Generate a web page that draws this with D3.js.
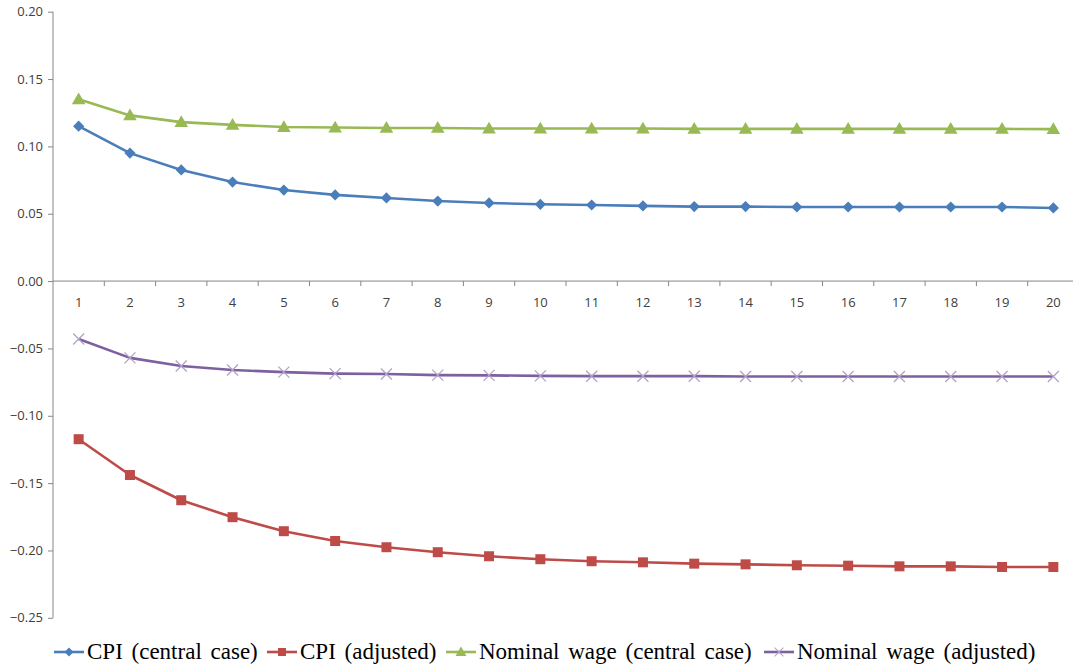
<!DOCTYPE html>
<html>
<head>
<meta charset="utf-8">
<script src="https://cdn.jsdelivr.net/npm/d3@7"></script>
<style>
  body { margin: 0; background: #fff; }
  svg { display: block; }
</style>
</head>
<body>
<div id="app"></div>
<script>
const periods = d3.range(1, 21).map(String)

const cpiCentral = [0.115, 0.095, 0.0825, 0.0735, 0.0676, 0.064, 0.0617, 0.0594, 0.058, 0.057,
                    0.0565, 0.0558, 0.0553, 0.0553, 0.055, 0.055, 0.055, 0.055, 0.055, 0.0543]
const cpiAdjusted = [-0.1174, -0.144, -0.1627, -0.1753, -0.1857, -0.193, -0.1976, -0.2013, -0.2043, -0.2065,
                     -0.208, -0.2088, -0.2098, -0.2103, -0.211, -0.2113, -0.2118, -0.2118, -0.2123, -0.2123]
const wageCentral = [0.135, 0.123, 0.118, 0.116, 0.1144, 0.114, 0.1137, 0.1137, 0.1133, 0.1133,
                     0.1133, 0.1133, 0.113, 0.113, 0.113, 0.113, 0.113, 0.113, 0.113, 0.1128]
const wageAdjusted = [-0.043, -0.057, -0.063, -0.066, -0.0676, -0.0687, -0.069, -0.0698, -0.070, -0.0704,
                      -0.0706, -0.0706, -0.0706, -0.0708, -0.0708, -0.0708, -0.0708, -0.0708, -0.0708, -0.0708]

const yTicks = [0.20, 0.15, 0.10, 0.05, 0.00, -0.05, -0.10, -0.15, -0.20, -0.25]

const seriesNames = ['CPI (central case)', 'CPI (adjusted)', 'Nominal wage (central case)', 'Nominal wage (adjusted)']
const seriesColors = ['#4A7EBB', '#BE4B48', '#98B954', '#7D60A0']
const seriesShapes = ['diamond', 'square', 'triangle', 'cross']
const seriesValues = [cpiCentral, cpiAdjusted, wageCentral, wageAdjusted]

const width = 1073
const height = 669
const plotLeft = 53, plotRight = 1079, plotTop = 11.7, plotBottom = 617.8

const svg = d3.select('#app').append('svg')
    .attr('width', width)
    .attr('height', height)

const x = d3.scaleBand().domain(periods).range([plotLeft, plotRight])
const y = d3.scaleLinear().domain([-0.25, 0.20]).range([plotBottom, plotTop])

const axisColor = '#868686'
const labelColor = '#404040'

// y axis
const yAxis = svg.append('g')
    .attr('transform', `translate(${plotLeft},0)`)
    .call(d3.axisLeft(y).tickValues(yTicks).tickSize(5).tickPadding(5).tickFormat(d3.format('.2f')))
yAxis.select('.domain').attr('stroke', axisColor).attr('d', `M0,${plotTop}V${plotBottom}`)
yAxis.selectAll('.tick line').attr('stroke', axisColor)
yAxis.selectAll('.tick text')
    .attr('fill', labelColor)
    .style('font-family', "'Open Sans', 'Liberation Sans', sans-serif")
    .style('font-size', '13px')

// x axis at zero
const xAxisG = svg.append('g').attr('transform', `translate(0,${y(0)})`)
xAxisG.append('line')
    .attr('x1', plotLeft).attr('x2', plotRight)
    .attr('stroke', axisColor)
xAxisG.selectAll('line.tk')
    .data(periods.slice(1).concat(['end']))
    .join('line')
    .attr('class', 'tk')
    .attr('x1', d => d === 'end' ? plotRight : x(d))
    .attr('x2', d => d === 'end' ? plotRight : x(d))
    .attr('y1', 0).attr('y2', 5)
    .attr('stroke', axisColor)
xAxisG.selectAll('text')
    .data(periods)
    .join('text')
    .attr('x', d => x(d) + x.bandwidth() / 2)
    .attr('y', 26)
    .attr('text-anchor', 'middle')
    .attr('fill', labelColor)
    .style('font-family', "'Open Sans', 'Liberation Sans', sans-serif")
    .style('font-size', '13px')
    .text(d => d)

function markerPath(shape) {
  if (shape === 'diamond') return d3.symbol(d3.symbolDiamond2, 80)()
  if (shape === 'square') return d3.symbol(d3.symbolSquare, 100)()
  if (shape === 'triangle') return d3.symbol(d3.symbolTriangle, 80)()
  return 'M-5.5,-5.5L5.5,5.5M-5.5,5.5L5.5,-5.5'
}

function drawMarker(g, shape, color) {
  if (shape === 'cross') {
    g.append('path').attr('d', markerPath(shape))
      .attr('fill', 'none').attr('stroke', '#B3A2C7').attr('stroke-width', 1.3)
  } else {
    g.append('path').attr('d', markerPath(shape))
      .attr('fill', color)
      .attr('transform', shape === 'triangle' ? 'translate(0,1)' : null)
  }
}

const line = d3.line()
    .x((d, i) => x(periods[i]) + x.bandwidth() / 2)
    .y(d => y(d))

seriesValues.forEach((values, k) => {
  const g = svg.append('g')
  g.append('path')
      .datum(values)
      .attr('d', line)
      .attr('fill', 'none')
      .attr('stroke', seriesColors[k])
      .attr('stroke-width', 2.6)
      .attr('stroke-linejoin', 'round')
  g.selectAll('g.m')
      .data(values)
      .join('g')
      .attr('class', 'm')
      .attr('transform', (d, i) => `translate(${x(periods[i]) + x.bandwidth() / 2},${y(d)})`)
      .each(function() { drawMarker(d3.select(this), seriesShapes[k], seriesColors[k]) })
})

// legend
const legendX = [54, 267, 446, 764]
const legend = svg.append('g').attr('transform', 'translate(0,652)')
seriesNames.forEach((name, k) => {
  const item = legend.append('g').attr('transform', `translate(${legendX[k]},0)`)
  item.append('line')
      .attr('x1', 0).attr('x2', 30)
      .attr('stroke', seriesColors[k])
      .attr('stroke-width', 2.6)
  const m = item.append('g').attr('transform', 'translate(15,0) scale(0.8)')
  drawMarker(m, seriesShapes[k], seriesColors[k])
  item.append('text')
      .attr('x', 33)
      .attr('y', 7)
      .attr('fill', '#000')
      .style('font-family', "'Liberation Serif', 'DejaVu Serif', serif")
      .style('font-size', '23px')
      .style('word-spacing', '3px')
      .text(name)
})
</script>
</body>
</html>
